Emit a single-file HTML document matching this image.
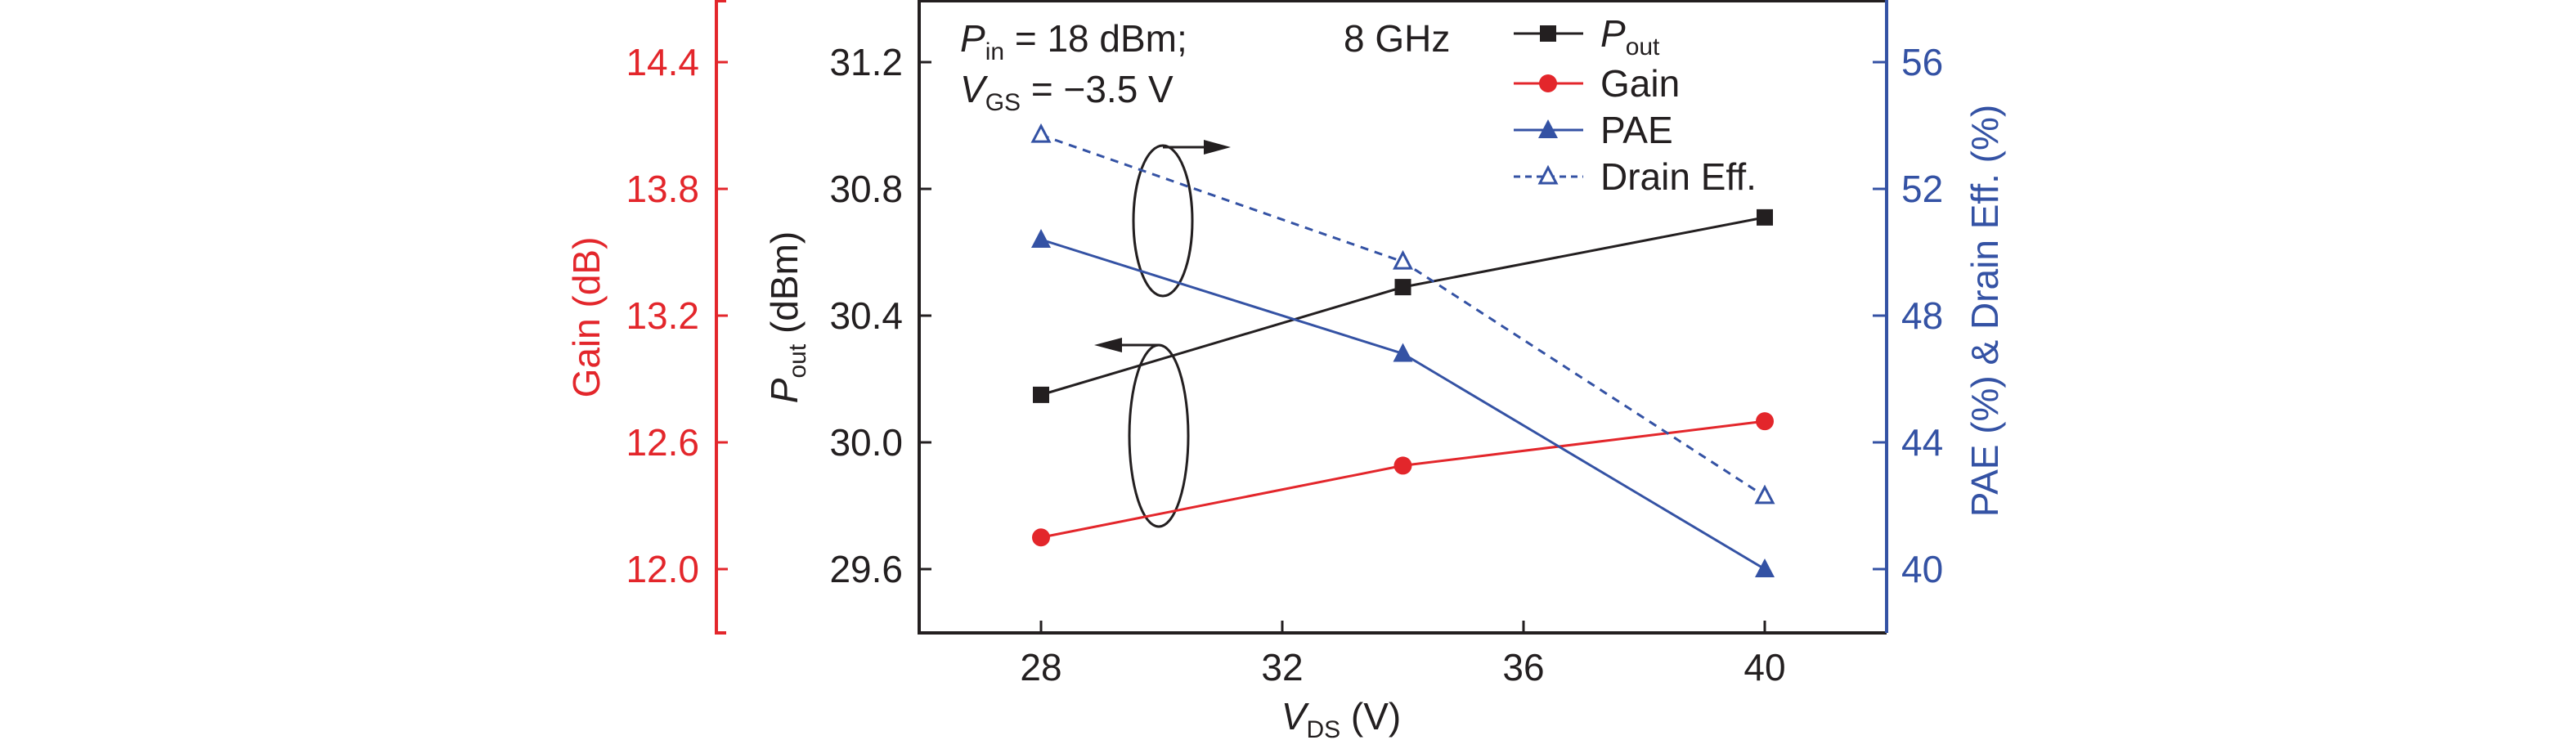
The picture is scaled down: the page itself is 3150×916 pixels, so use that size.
<!DOCTYPE html>
<html><head><meta charset="utf-8"><style>
html,body{margin:0;padding:0;background:#fff;}
svg{display:block;font-family:"Liberation Sans",sans-serif;}
</style></head><body>
<svg id="chart" width="3150" height="916" viewBox="0 0 3150 916">
<g id="axes"></g><g id="marks"></g>
</svg>
<script>
const vds = [28, 34, 40];
const pout = [30.15, 30.49, 30.71];
const gain = [12.15, 12.49, 12.70];
const pae = [50.4, 46.8, 40.0];
const drain = [53.7, 49.7, 42.3];
const xTicks = [28, 32, 36, 40];
const poutTicks = ["29.6", "30.0", "30.4", "30.8", "31.2"];
const gainTicks = ["12.0", "12.6", "13.2", "13.8", "14.4"];
const paeTicks = ["40", "44", "48", "52", "56"];

const NS = "http://www.w3.org/2000/svg";
const X0 = 1124, X1 = 2307, Y0 = 1, Y1 = 774;
const sx = v => 1273 + (v - 28) * 73.75;
const yPout = v => 696 - (v - 29.6) / 0.4 * 155;
const yGain = v => 696 - (v - 12.0) / 0.6 * 155;
const yPae = v => 696 - (v - 40) / 4 * 155;
const axes = document.getElementById('axes');
const marks = document.getElementById('marks');
function mk(tag, attrs, parent, text) {
  const e = document.createElementNS(NS, tag);
  for (const k in attrs) e.setAttribute(k, attrs[k]);
  if (text !== undefined) e.textContent = text;
  parent.appendChild(e);
  return e;
}
const RED = "#e3262b", BLUE = "#3452a4", BLK = "#231f20";

// frame
let e = mk('path', {d:`M${X1},${Y0} L${X0},${Y0} L${X0},${Y1} L${X1},${Y1}`, fill:'none', stroke:BLK, 'stroke-width':4}, axes);


e = mk('line', {x1:X1, y1:0, x2:X1, y2:Y1, stroke:BLUE, 'stroke-width':4}, axes);


e = mk('path', {d:`M888,1 L876,1 L876,${Y1} L888,${Y1}`, fill:'none', stroke:RED, 'stroke-width':4}, axes);



poutTicks.forEach(t => {
  const y = yPout(parseFloat(t));
  e = mk('line', {x1:X0, x2:X0+15, y1:y, y2:y, stroke:BLK, 'stroke-width':3}, axes);
  
  
  e = mk('text', {x:1104, y:y+16, 'text-anchor':'end', 'font-size':46, fill:BLK}, axes, t);
  
  
});
gainTicks.forEach(t => {
  const y = yGain(parseFloat(t));
  e = mk('line', {x1:876, x2:890, y1:y, y2:y, stroke:RED, 'stroke-width':3}, axes);
  
  
  e = mk('text', {x:855, y:y+16, 'text-anchor':'end', 'font-size':46, fill:RED}, axes, t);
  
  
});
paeTicks.forEach(t => {
  const y = yPae(parseFloat(t));
  e = mk('line', {x1:X1-17, x2:X1, y1:y, y2:y, stroke:BLUE, 'stroke-width':3}, axes);
  
  
  e = mk('text', {x:2325, y:y+16, 'font-size':46, fill:BLUE}, axes, t);
  
  
});
xTicks.forEach(t => {
  const x = sx(t);
  e = mk('line', {x1:x, x2:x, y1:Y1, y2:Y1-15, stroke:BLK, 'stroke-width':3}, axes);
  
  
  e = mk('text', {x:x, y:832, 'text-anchor':'middle', 'font-size':46, fill:BLK}, axes, String(t));
  
  
});

// axis titles
e = mk('text', {x:1640, y:892, 'text-anchor':'middle', 'font-size':46, fill:BLK}, axes);
e.innerHTML = '<tspan font-style="italic">V</tspan><tspan font-size="30" dy="10">DS</tspan><tspan dy="-10"> (V)</tspan>';


e = mk('text', {x:0, y:0, 'text-anchor':'middle', 'font-size':46, fill:RED, transform:'translate(733,388) rotate(-90)'}, axes, 'Gain (dB)');


e = mk('text', {x:0, y:0, 'text-anchor':'middle', 'font-size':46, fill:BLK, transform:'translate(975,388) rotate(-90)'}, axes);
e.innerHTML = '<tspan font-style="italic">P</tspan><tspan font-size="30" dy="10">out</tspan><tspan dy="-10"> (dBm)</tspan>';


e = mk('text', {x:0, y:0, 'text-anchor':'middle', 'font-size':46, fill:BLUE, transform:'translate(2443,380) rotate(-90)'}, axes, 'PAE (%) & Drain Eff. (%)');



// annotations
e = mk('text', {x:1174, y:63, 'font-size':46, fill:BLK}, axes);
e.innerHTML = '<tspan font-style="italic">P</tspan><tspan font-size="30" dy="10">in</tspan><tspan dy="-10"> = 18 dBm;</tspan>';


e = mk('text', {x:1174, y:125, 'font-size':46, fill:BLK}, axes);
e.innerHTML = '<tspan font-style="italic">V</tspan><tspan font-size="30" dy="10">GS</tspan><tspan dy="-10"> = −3.5 V</tspan>';


e = mk('text', {x:1643, y:63, 'font-size':46, fill:BLK}, axes, '8 GHz');



// ellipses + arrows
e = mk('ellipse', {cx:1422, cy:270, rx:36, ry:92, fill:'none', stroke:BLK, 'stroke-width':3}, axes);


e = mk('path', {d:'M1422,180 L1480,180', stroke:BLK, 'stroke-width':3, fill:'none'}, axes);


e = mk('path', {d:'M1505,180 L1472,171 L1472,189 Z', fill:BLK}, axes);


e = mk('ellipse', {cx:1417, cy:533, rx:36, ry:111, fill:'none', stroke:BLK, 'stroke-width':3}, axes);


e = mk('path', {d:'M1417,422 L1365,422', stroke:BLK, 'stroke-width':3, fill:'none'}, axes);


e = mk('path', {d:'M1338,422 L1372,413 L1372,431 Z', fill:BLK}, axes);



function marker(type, x, y, color, g) {
  let m;
  if (type === 'square') m = mk('rect', {x:x-10, y:y-10, width:20, height:20, fill:color}, g);
  else if (type === 'circle') m = mk('circle', {cx:x, cy:y, r:11, fill:color}, g);
  else if (type === 'tri') m = mk('path', {d:`M${x},${y-13} L${x+12},${y+10} L${x-12},${y+10} Z`, fill:color}, g);
  else m = mk('path', {d:`M${x},${y-11} L${x+10},${y+8} L${x-10},${y+8} Z`, fill:'#fff', stroke:color, 'stroke-width':3}, g);
  return m;
}
const series = [
  {name:'pout', vals:pout, fy:yPout, color:BLK, m:'square', dash:null},
  {name:'gain', vals:gain, fy:yGain, color:RED, m:'circle', dash:null},
  {name:'pae', vals:pae, fy:yPae, color:BLUE, m:'tri', dash:null},
  {name:'drain-eff', vals:drain, fy:yPae, color:BLUE, m:'otri', dash:'10 8'}
];
series.forEach(s => {
  const g = mk('g', {}, marks);
  
  
  const pts = s.vals.map((v, i) => `${sx(vds[i])},${s.fy(v)}`).join(' ');
  const a = {points:pts, fill:'none', stroke:s.color, 'stroke-width':3};
  if (s.dash) a['stroke-dasharray'] = s.dash;
  const pl = mk('polyline', a, g);
  
  
  s.vals.forEach((v, i) => {
    const m = marker(s.m, sx(vds[i]), s.fy(v), s.color, g);
    
    
  });
});

// legend
const legY = [41, 102, 159, 216];
series.forEach((s, i) => {
  const g = mk('g', {}, axes);
  
  
  const a = {x1:1851, x2:1936, y1:legY[i], y2:legY[i], stroke:s.color, 'stroke-width':3};
  if (s.dash) a['stroke-dasharray'] = '8 6';
  mk('line', a, g);
  marker(s.m, 1893, legY[i], s.color, g);
  const t = mk('text', {x:1957, y:legY[i]+16, 'font-size':46, fill:BLK}, g);
  if (i === 0) t.innerHTML = '<tspan font-style="italic">P</tspan><tspan font-size="30" dy="10">out</tspan>';
  else t.textContent = ['', 'Gain', 'PAE', 'Drain Eff.'][i];
});
</script>
</body></html>
